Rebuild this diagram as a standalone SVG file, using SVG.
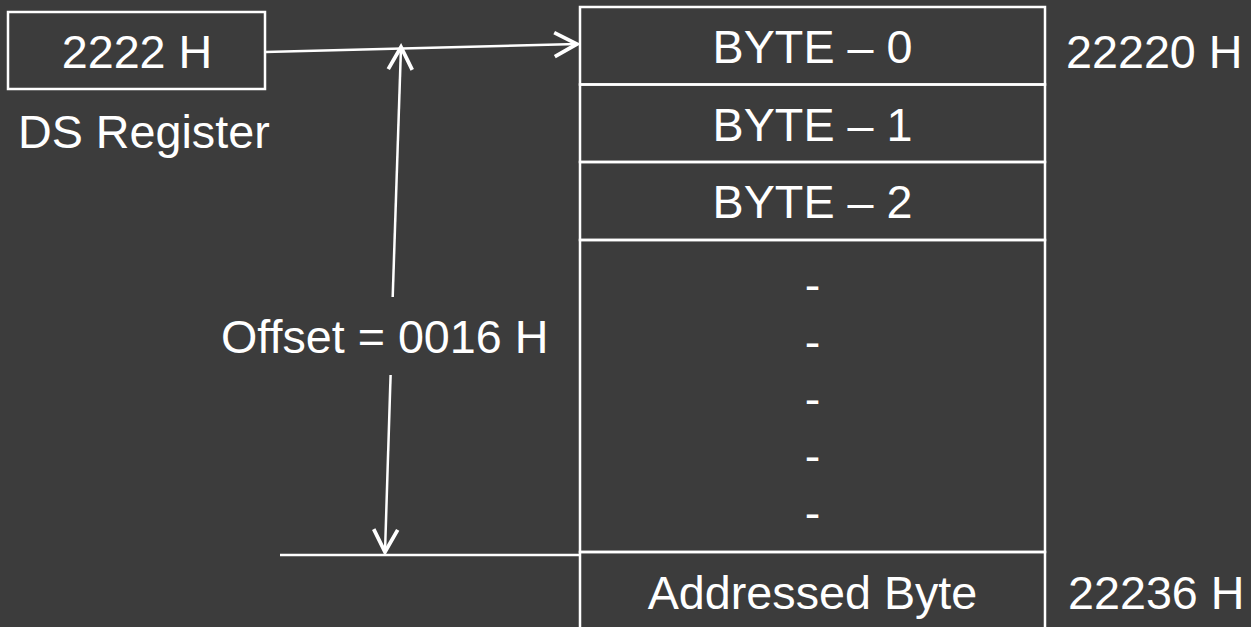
<svg xmlns="http://www.w3.org/2000/svg" width="1251" height="627" viewBox="0 0 1251 627">
<style>
.bx{fill:none;stroke:#ffffff;stroke-width:2.5}
.ln{fill:none;stroke:#ffffff;stroke-width:2.5}
.t{fill:#ffffff;font-family:"Liberation Sans",Arial,sans-serif;font-size:46.7px}
.c{text-anchor:middle}
</style>
<defs>
<marker id="ah" markerUnits="userSpaceOnUse" markerWidth="30" markerHeight="30" viewBox="-16 -10 20 20" refX="0" refY="0" orient="auto">
<path d="M-15,-8 L0,0 L-15,8" fill="none" stroke="#ffffff" stroke-width="2.5" stroke-linejoin="miter"/>
</marker>
</defs>
<rect width="1251" height="627" fill="#3c3c3c"/>
<g id="ds-register">
<rect class="bx" x="8" y="12" width="257" height="77"/>
<text class="t c" x="137" y="68">2222 H</text>
<text class="t" x="18" y="148">DS Register</text>
</g>
<g id="memory">
<rect class="bx" x="580" y="7" width="465" height="77.5"/>
<rect class="bx" x="580" y="84.5" width="465" height="77.5"/>
<rect class="bx" x="580" y="162" width="465" height="78"/>
<rect class="bx" x="580" y="240" width="465" height="312"/>
<rect class="bx" x="580" y="552" width="465" height="90"/>
<text class="t c" x="812.5" y="63">BYTE – 0</text>
<text class="t c" x="812.5" y="141">BYTE – 1</text>
<text class="t c" x="812.5" y="218">BYTE – 2</text>
<text class="t c" x="812.5" y="301">-</text>
<text class="t c" x="812.5" y="358">-</text>
<text class="t c" x="812.5" y="415">-</text>
<text class="t c" x="812.5" y="472">-</text>
<text class="t c" x="812.5" y="529">-</text>
<text class="t c" x="812.5" y="609">Addressed Byte</text>
</g>
<g id="addr-labels">
<text class="t" x="1066" y="68">22220 H</text>
<text class="t" x="1068" y="609">22236 H</text>
</g>
<g id="offset-label">
<text class="t" x="221" y="353">Offset = 0016 H</text>
</g>
<g id="connectors">
<line class="ln" x1="265" y1="52" x2="577" y2="44" marker-end="url(#ah)"/>
<line class="ln" x1="392.7" y1="297" x2="401" y2="47" marker-end="url(#ah)"/>
<line class="ln" x1="390.6" y1="375" x2="385" y2="552" marker-end="url(#ah)"/>
<line class="ln" x1="280" y1="555" x2="580" y2="555"/>
</g>
</svg>
